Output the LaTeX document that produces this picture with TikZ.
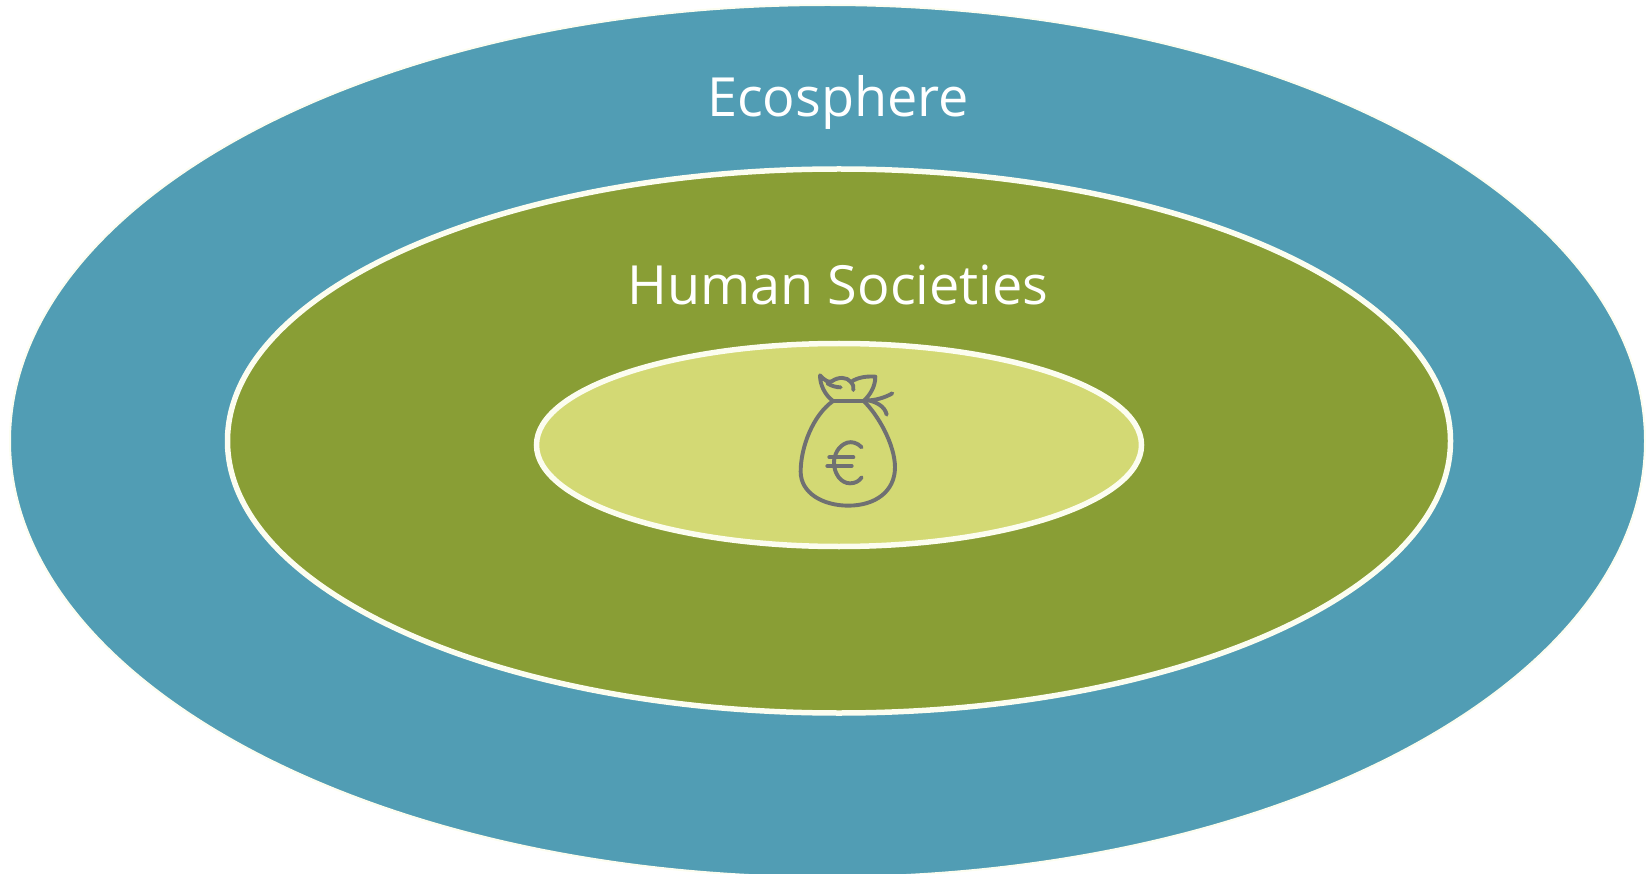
\documentclass[tikz,border=0pt]{standalone}
\usepackage{fontspec}
\setmainfont{Open Sans}
\usetikzlibrary{shapes.geometric}
\definecolor{tealc}{HTML}{519DB4}
\definecolor{greenc}{HTML}{899E35}
\definecolor{lightc}{HTML}{D3D974}
\definecolor{edgec}{HTML}{FCFDF0}
\definecolor{iconc}{HTML}{6F7072}
\tikzset{
  x=1pt,y=-1pt,
  zone/.style={ellipse,inner sep=0pt,outer sep=0pt,draw=edgec},
  lbl/.style={text=white,anchor=base,inner sep=0pt,font=\fontsize{54}{58}\selectfont},
  iconline/.style={draw=iconc,line width=3.9pt,line cap=round,line join=round}
}
\begin{document}
\begin{tikzpicture}
\useasboundingbox (0,0) rectangle (1649,874);
\begin{scope}
\clip (0,0) rectangle (1649,874);
\node[zone,fill=tealc,line width=2pt,minimum width=1635pt,minimum height=872pt] (eco) at (827.5,441) {};
\end{scope}
\node[zone,fill=greenc,line width=5.5pt,minimum width=1223pt,minimum height=544pt] (hum) at (839,441) {};
\node[zone,fill=lightc,line width=5.5pt,minimum width=605pt,minimum height=203pt] (eco2) at (839,445) {};
\node[lbl] (t1) at (838,116.5) {Ecosphere};
\node[lbl] (t2) at (838,305) {Human Societies};
\begin{scope}[shift={(770,360)},x=0.3333pt,y=-0.3333pt]
% bag body
\draw[iconline] (188,124) .. controls (130,165) and (92,260) .. (92,335)
  .. controls (92,400) and (160,437) .. (235,437)
  .. controls (315,437) and (375,395) .. (375,322)
  .. controls (375,255) and (325,165) .. (280,122);
% neck
\draw[iconline] (188,122) -- (282,122);
% top cloth
\draw[iconline] (188,122) .. controls (165,105) and (150,75) .. (150,46)
  .. controls (165,62) and (175,68) .. (185,64)
  .. controls (205,50) and (230,50) .. (243,66)
  .. controls (262,52) and (290,48) .. (316,50)
  .. controls (316,80) and (300,105) .. (282,122);
\draw[iconline] (172,70) .. controls (185,78) and (198,82) .. (212,82);
\draw[iconline] (243,66) .. controls (250,72) and (251,80) .. (250,90);
% strings
\draw[iconline] (282,122) .. controls (315,122) and (345,113) .. (367,100);
\draw[iconline] (290,120) .. controls (320,125) and (345,140) .. (350,164);
% euro
\draw[iconline] (275,262) .. controls (262,248) and (245,244) .. (232,248)
  .. controls (205,256) and (192,285) .. (192,308)
  .. controls (192,340) and (212,370) .. (240,370)
  .. controls (255,370) and (267,364) .. (275,352);
\draw[iconline] (178,292) -- (250,292);
\draw[iconline] (172,318) -- (245,318);
\end{scope}
\end{tikzpicture}
\end{document}
